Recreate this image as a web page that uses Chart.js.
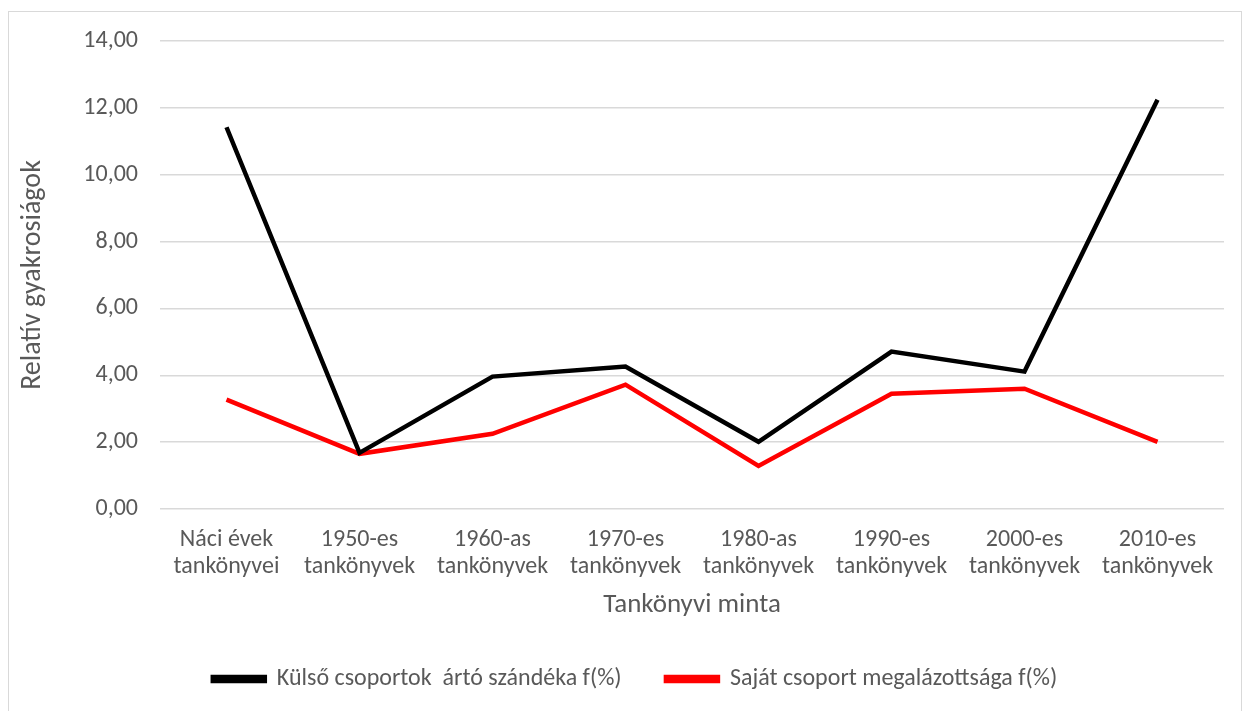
<!DOCTYPE html>
<html>
<head>
<meta charset="utf-8">
<script src="https://cdn.jsdelivr.net/npm/chart.js@4.4.1/dist/chart.umd.min.js"></script>
<style>
  html, body { margin: 0; padding: 0; background: #fff; }
  #wrap {
    position: absolute; left: 8px; top: 11px;
    width: 1234px; height: 710px;
    border: 1px solid #d9d9d9; box-sizing: border-box;
  }
  #holder { position: absolute; left: 0; top: 0; width: 1252px; height: 711px; }
</style>
</head>
<body>
<div id="wrap"></div>
<div id="holder"><canvas id="chart"></canvas></div>
<script>
// Kategóriák és adatsorok
const categories = [
  ["Náci évek", "tankönyvei"],
  ["1950-es", "tankönyvek"],
  ["1960-as", "tankönyvek"],
  ["1970-es", "tankönyvek"],
  ["1980-as", "tankönyvek"],
  ["1990-es", "tankönyvek"],
  ["2000-es", "tankönyvek"],
  ["2010-es", "tankönyvek"]
];
const kulsoValues = [11.42, 1.68, 3.96, 4.26, 2.01, 4.71, 4.11, 12.24];
const sajatValues = [3.27, 1.65, 2.25, 3.72, 1.29, 3.45, 3.60, 2.01];
const seriesNames = ["Külső csoportok  ártó szándéka f(%)", "Saját csoport megalázottsága f(%)"];

const textColor = "#595959";
const fontFamily = "Carlito, 'Liberation Sans', 'Open Sans', sans-serif";

// legenda kicsit jobbra, mint az eredetin
const legendShift = {
  id: "legendShift",
  afterLayout(chart) {
    if (chart.legend) {
      chart.legend.left += 15;
      chart.legend.right += 15;
    }
  }
};

const ctx = document.querySelector("#chart");

new Chart(ctx, {
  type: "line",
  data: {
    labels: categories,
    datasets: [
      {
        label: seriesNames[0],
        data: kulsoValues,
        borderColor: "#000000",
        backgroundColor: "#000000",
        borderWidth: 4.5,
        pointRadius: 0,
        tension: 0
      },
      {
        label: seriesNames[1],
        data: sajatValues,
        borderColor: "#ff0000",
        backgroundColor: "#ff0000",
        borderWidth: 4.5,
        pointRadius: 0,
        tension: 0
      }
    ]
  },
  plugins: [legendShift],
  options: {
    responsive: true,
    maintainAspectRatio: false,
    animation: false,
    layout: {
      padding: { left: 16, right: 28, top: 41, bottom: 10 }
    },
    plugins: {
      legend: {
        position: "bottom",
        labels: {
          color: textColor,
          font: { family: fontFamily, size: 24 },
          boxWidth: 52,
          boxHeight: 4,
          padding: 28,
          generateLabels: function (chart) {
            const items = Chart.defaults.plugins.legend.labels.generateLabels(chart);
            items[0].text = items[0].text + "   ";
            return items;
          }
        }
      },
      tooltip: { enabled: false }
    },
    scales: {
      x: {
        offset: true,
        grid: { display: false },
        border: { display: false },
        ticks: {
          color: textColor,
          font: { family: fontFamily, size: 24, lineHeight: 1.15 },
          maxRotation: 0,
          padding: 9
        },
        title: {
          display: true,
          text: "Tankönyvi minta",
          color: textColor,
          font: { family: fontFamily, size: 27 },
          padding: { top: 6, bottom: 18 }
        },
        afterFit: function (scale) {
          scale.height = 130;
        }
      },
      y: {
        min: 0,
        max: 14,
        grid: { color: "#d9d9d9", lineWidth: 1.5, drawTicks: false },
        border: { display: false },
        ticks: {
          stepSize: 2,
          color: textColor,
          font: { family: fontFamily, size: 24 },
          padding: 22,
          callback: function (v) {
            return v.toFixed(2).replace(".", ",");
          }
        },
        title: {
          display: true,
          text: "Relatív gyakrosiágok",
          color: textColor,
          font: { family: fontFamily, size: 28 },
          padding: { top: 0, bottom: 10 }
        },
        afterFit: function (scale) {
          scale.width = 144;
        }
      }
    }
  }
});
</script>
</body>
</html>
